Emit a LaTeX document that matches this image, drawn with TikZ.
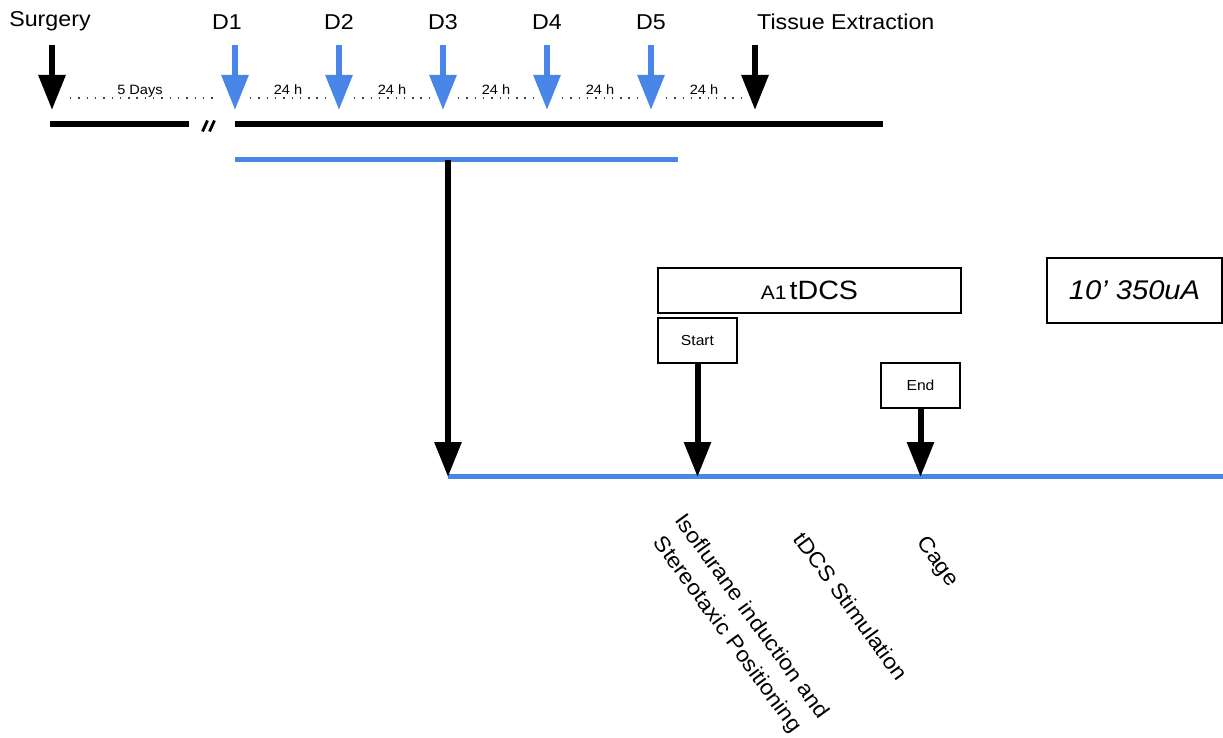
\documentclass[tikz,border=0pt]{standalone}
\usepackage{fontspec}
\setmainfont{Liberation Sans}[FakeStretch=1.08]
\usetikzlibrary{arrows.meta}
\definecolor{tlblue}{RGB}{74,134,232}

\tikzset{
  biglabel/.style={font=\fontsize{21.5}{30}\selectfont, inner sep=0pt},
  smalllabel/.style={font=\fontsize{13.5}{16}\selectfont, inner sep=0pt},
  stagebox/.style={draw, line width=1.3pt, inner sep=0pt, minimum height=45pt},
  evarrow/.style={line width=6pt, -{Triangle[width=26pt,length=35pt]}},
  dotline/.style={line width=1.4pt, dash pattern=on 1.4pt off 6.9pt, black!75},
  blackbar/.style={line width=6pt},
  bluebar/.style={line width=5pt, tlblue},
}

\begin{document}
\begin{tikzpicture}[x=1pt, y=-1pt]
\useasboundingbox (0,0) rectangle (1223,738);

% ---- top timeline: surgery, daily sessions, extraction ----
\node[biglabel, anchor=base] (surgery) at (50,27) {Surgery};
\coordinate (surg-top) at (52,45);
\coordinate (surg-tip) at (52,110);
\draw[evarrow] (surg-top) -- (surg-tip);

\foreach \i/\x/\lx in {1/235/227, 2/339/339, 3/443/443, 4/547/547, 5/651/651} {
  \node[biglabel, anchor=base] (d\i) at (\lx,30) {D\i};
  \coordinate (d\i-top) at (\x,45);
  \coordinate (d\i-tip) at (\x,110);
  \draw[evarrow, tlblue] (d\i-top) -- (d\i-tip);
}

\node[biglabel, anchor=base west] (extract) at (757,30) {Tissue Extraction};
\coordinate (ext-top) at (755,45);
\coordinate (ext-tip) at (755,110);
\draw[evarrow] (ext-top) -- (ext-tip);

% intervals between events
\draw[dotline] (70,98) -- (213,98);
\node[smalllabel, anchor=base] (gap0) at (140,95) {5 Days};
\foreach \a/\b/\n in {235/339/1, 339/443/2, 443/547/3, 547/651/4, 651/755/5} {
  \draw[dotline] (\a+15,98) -- (\b-14,98);
  \node[smalllabel, anchor=base] (gap\n) at ({(\a+\b)/2+1},95) {24 h};
}

% time axis with break
\draw[blackbar] (50,124) -- (189,124);
\draw[blackbar] (235,124) -- (883,124);
\draw[line width=2.8pt] (202.5,131.5) -- (207.5,120.5);
\draw[line width=2.8pt] (209.5,131.5) -- (214.5,120.5);

% stimulation period
\draw[bluebar] (235,160) -- (678,160);
\coordinate (split) at (448,160);

% ---- expanded single session ----
\draw[bluebar] (448,476) -- (1223,476);
\coordinate (t0) at (448,477);
\draw[evarrow] (split) -- (t0);

\node[stagebox, minimum width=303pt] (a1) at (809.5,290.5)
  {{\fontsize{19.5}{24}\selectfont A1} {\fontsize{26.5}{32}\selectfont tDCS}};
\node[stagebox, minimum width=175pt, minimum height=65pt] (param) at (1134.5,290.5)
  {\fontsize{27}{32}\selectfont\itshape 10’ 350uA};

\node[stagebox, minimum width=79pt, font=\fontsize{14.5}{17}\selectfont] (start) at (697.5,340.5) {Start};
\node[stagebox, minimum width=79pt, font=\fontsize{14.5}{17}\selectfont] (end) at (920.5,385.5) {End};

\coordinate (t-start) at (697.5,477);
\coordinate (t-end) at (920.5,477);
\draw[evarrow] (start.south) -- (t-start);
\draw[evarrow] (end.south) -- (t-end);

% phase labels
\node[biglabel, rotate=-54, align=center] (iso) at (739,626)
  {Isoflurane induction and\\Stereotaxic Positioning};
\node[biglabel, rotate=-54] (stim) at (851,606) {tDCS Stimulation};
\node[biglabel, rotate=-54] (cage) at (937,562) {Cage};
\end{tikzpicture}
\end{document}
